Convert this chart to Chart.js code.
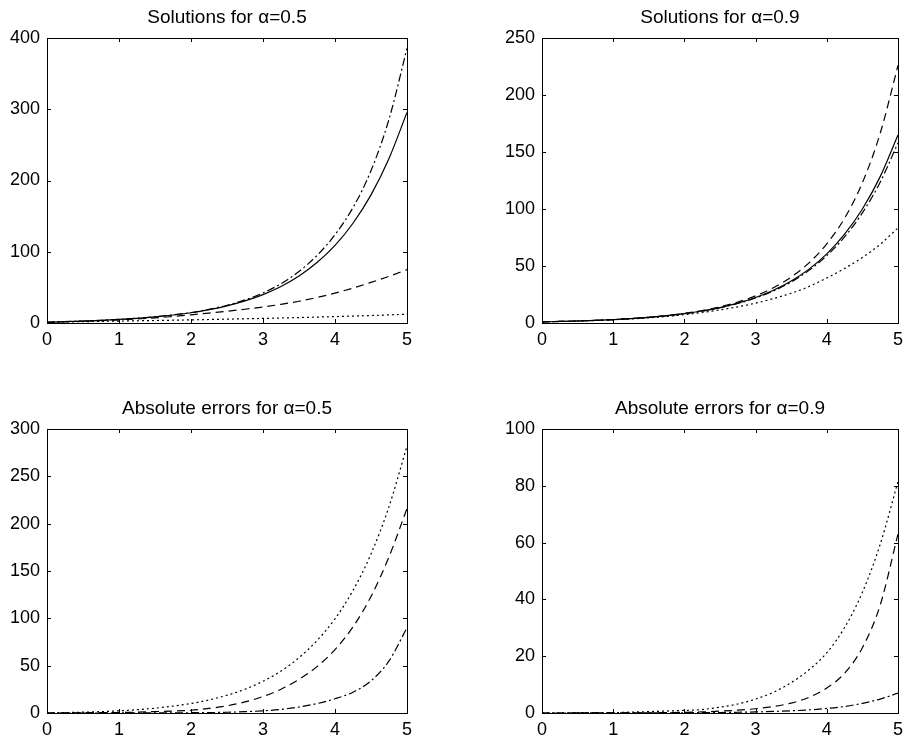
<!DOCTYPE html>
<html>
<head>
<meta charset="utf-8">
<script src="https://cdn.jsdelivr.net/npm/chart.js@4.4.1/dist/chart.umd.min.js"></script>
<style>
  html, body { margin: 0; padding: 0; background: #fff; overflow: hidden; }
  body { width: 909px; height: 742px; position: relative; }
  canvas { position: absolute; }
</style>
</head>
<body>
<canvas id="solA" width="450" height="351" style="left:0;top:0"></canvas>
<canvas id="solB" width="414" height="351" style="left:495px;top:0"></canvas>
<canvas id="errA" width="450" height="350" style="left:0;top:391px"></canvas>
<canvas id="errB" width="414" height="350" style="left:495px;top:391px"></canvas>
<script>
// time grid (x axis)
const xs = [0, 0.25, 0.5, 0.75, 1, 1.25, 1.5, 1.75, 2, 2.25, 2.5, 2.75, 3, 3.25, 3.5, 3.75, 4, 4.25, 4.5, 4.75, 5];
const xTicks = [0, 1, 2, 3, 4, 5];

// alpha = 0.5, solutions
const exact05   = [1, 1.95, 2.77, 3.77, 5.01, 6.58, 8.59, 11.2, 14.4, 18.7, 24.1, 31.0, 39.9, 51.3, 66.0, 84.8, 108.9, 140.0, 179.8, 230.9, 295.5];
const dashDot05 = [1, 1.95, 2.78, 3.79, 5.06, 6.66, 8.72, 11.4, 14.7, 19.2, 24.9, 32.4, 42.2, 55.1, 72.3, 94.8, 123.9, 162, 213.8, 285.9, 385.5];
const dashed05  = [1, 1.8, 2.5, 3.3, 4.5, 5.7, 7.1, 9.2, 11.5, 13.9, 16.5, 19.3, 22.5, 26.2, 30.5, 35.8, 42, 49, 57, 65.5, 75];
const dotted05  = [1, 1.5, 1.9, 2.3, 2.7, 3.1, 3.5, 3.9, 4.4, 4.9, 5.4, 5.9, 6.4, 7.0, 7.6, 8.3, 9.0, 9.7, 10.5, 11.4, 12.3];

// alpha = 0.9, solutions
const exact09   = [1, 1.36, 1.77, 2.30, 2.98, 3.86, 4.98, 6.39, 8.21, 10.54, 13.54, 17.38, 22.32, 28.66, 36.79, 47.25, 60.66, 77.9, 100.0, 128.4, 164.9];
const dashDot09 = [1, 1.36, 1.76, 2.29, 2.96, 3.83, 4.94, 6.33, 8.13, 10.42, 13.37, 17.12, 21.94, 28.11, 36.01, 46.15, 59.06, 75.6, 96.6, 123.5, 157.9];
const dashed09  = [1, 1.36, 1.78, 2.32, 3.01, 3.91, 5.06, 6.54, 8.46, 10.94, 14.19, 18.38, 23.82, 30.96, 40.29, 52.75, 69.46, 91.9, 123, 166.4, 225.9];
const dotted09  = [1, 1.34, 1.75, 2.25, 2.85, 3.55, 4.5, 5.7, 7.3, 9.3, 11.5, 14.2, 17.4, 21.4, 26.1, 32, 39.5, 47.8, 57.5, 69, 83.4];

// absolute errors, alpha = 0.5
const errDotted05  = [0, 0.45, 0.87, 1.47, 2.3, 3.5, 5.1, 7.3, 10.0, 13.8, 18.7, 25.1, 33.5, 44.3, 58.4, 76.5, 99.5, 129.5, 168, 218, 282];
const errDashed05  = [0, 0.15, 0.27, 0.47, 0.51, 0.88, 1.49, 2.0, 2.9, 4.8, 7.6, 11.7, 17.4, 25.1, 35.5, 49, 67, 91, 123, 165, 216];
const errDashDot05 = [0, 0, 0.01, 0.02, 0.05, 0.08, 0.13, 0.2, 0.3, 0.45, 0.8, 1.4, 2.3, 3.8, 6.3, 10, 15, 22, 34, 55, 90];

// absolute errors, alpha = 0.9
const errDotted09  = [0, 0.02, 0.02, 0.05, 0.13, 0.31, 0.48, 0.69, 0.91, 1.24, 2.04, 3.18, 4.92, 7.3, 10.7, 15.2, 21.2, 30.1, 42.5, 59.4, 81.5];
const errDashed09  = [0, 0, 0.01, 0.02, 0.03, 0.05, 0.08, 0.15, 0.25, 0.4, 0.65, 1.0, 1.5, 2.3, 3.5, 5.5, 8.8, 14, 23, 38, 63];
const errDashDot09 = [0, 0, 0.01, 0.01, 0.02, 0.03, 0.04, 0.06, 0.08, 0.12, 0.17, 0.26, 0.38, 0.55, 0.78, 1.1, 1.6, 2.3, 3.4, 4.9, 7.0];

Chart.defaults.color = '#000';
Chart.defaults.font.family = '"Liberation Sans", Arial, Helvetica, sans-serif';

const SOLID = [], DASHED = [8, 5], DOTTED = [2, 3], DASHDOT = [8, 3, 2, 3];

function line(values, dash) {
    return {
        data: values.map((v, i) => ({ x: xs[i], y: v })),
        borderColor: '#000',
        borderWidth: 1.2,
        borderDash: dash,
        pointRadius: 0,
        cubicInterpolationMode: 'monotone',
        fill: false
    };
}

// matlab style box with inward ticks on all four sides
const boxTicks = {
    id: 'boxTicks',
    afterDraw(chart) {
        const ctx = chart.ctx, a = chart.chartArea, len = 4;
        ctx.save();
        ctx.strokeStyle = '#000';
        ctx.lineWidth = 1;
        ctx.setLineDash([]);
        ctx.beginPath();
        chart.scales.x.ticks.forEach(t => {
            const px = Math.round(chart.scales.x.getPixelForValue(t.value)) + 0.5;
            ctx.moveTo(px, a.bottom); ctx.lineTo(px, a.bottom - len);
            ctx.moveTo(px, a.top); ctx.lineTo(px, a.top + len);
        });
        chart.scales.y.ticks.forEach(t => {
            const py = Math.round(chart.scales.y.getPixelForValue(t.value)) + 0.5;
            ctx.moveTo(a.left, py); ctx.lineTo(a.left + len, py);
            ctx.moveTo(a.right, py); ctx.lineTo(a.right - len, py);
        });
        ctx.stroke();
        ctx.strokeRect(Math.round(a.left) + 0.5, Math.round(a.top) + 0.5, Math.round(a.right - a.left), Math.round(a.bottom - a.top));
        ctx.restore();
    }
};

function panel(id, title, datasets, yMax, yStep, rightPad) {
    return new Chart(document.getElementById(id), {
        type: 'line',
        data: { datasets: datasets },
        options: {
            responsive: false,
            animation: false,
            layout: { padding: { left: 0, right: rightPad, top: 0, bottom: 0 } },
            plugins: {
                legend: { display: false },
                tooltip: { enabled: false },
                title: {
                    display: true,
                    text: title,
                    fullSize: false,
                    font: { size: 19, weight: 'normal', lineHeight: 1.2 },
                    padding: { top: 6, bottom: 9.2 }
                }
            },
            scales: {
                x: {
                    type: 'linear', min: 0, max: 5,
                    afterBuildTicks: s => { s.ticks = xTicks.map(v => ({ value: v })); },
                    afterFit: s => { s.height = 28; },
                    grid: { display: false, drawTicks: false },
                    border: { display: false },
                    ticks: { font: { size: 18 }, padding: 6, maxRotation: 0 }
                },
                y: {
                    type: 'linear', min: 0, max: yMax,
                    afterFit: s => { s.width = 47; },
                    grid: { display: false, drawTicks: false },
                    border: { display: false },
                    ticks: { stepSize: yStep, font: { size: 18 }, padding: 7 }
                }
            }
        },
        plugins: [boxTicks]
    });
}

panel('solA', 'Solutions for α=0.5', [
    line(exact05, SOLID), line(dashDot05, DASHDOT), line(dashed05, DASHED), line(dotted05, DOTTED)
], 400, 100, 43);

panel('solB', 'Solutions for α=0.9', [
    line(exact09, SOLID), line(dashDot09, DASHDOT), line(dashed09, DASHED), line(dotted09, DOTTED)
], 250, 50, 6);

panel('errA', 'Absolute errors for α=0.5', [
    line(errDotted05, DOTTED), line(errDashed05, DASHED), line(errDashDot05, DASHDOT)
], 300, 50, 43);

panel('errB', 'Absolute errors for α=0.9', [
    line(errDotted09, DOTTED), line(errDashed09, DASHED), line(errDashDot09, DASHDOT)
], 100, 20, 6);
</script>
</body>
</html>
